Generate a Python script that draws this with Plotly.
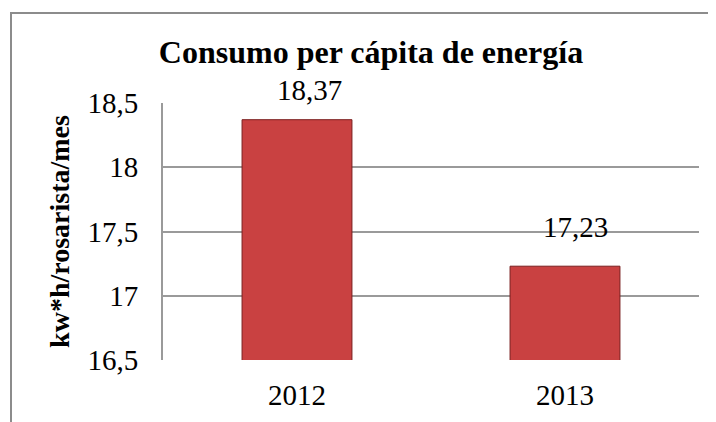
import plotly.graph_objects as go

categories = ["2012", "2013"]
values = [18.37, 17.23]
value_labels = ["18,37", "17,23"]
y_tickvals = [16.5, 17, 17.5, 18, 18.5]
y_ticktext = ["16,5", "17", "17,5", "18", "18,5"]

title_text = "Consumo per cápita de energía"
y_title = "kw*h/rosarista/mes"

FONT = "Liberation Serif, Times New Roman, serif"
label_shifts = [(12, 12), (10, 21)]

# page body has an 8px default margin, so the figure is 8px smaller each way
W, H = 708, 414

fig = go.Figure()
fig.add_trace(go.Bar(
    x=categories, y=values,
    marker=dict(color="#c94141", line=dict(color="#7a1e1e", width=1)),
    showlegend=False, hoverinfo="skip",
))

for c, v, t, (dx, dy) in zip(categories, values, value_labels, label_shifts):
    fig.add_annotation(x=categories.index(c), y=v, xref="x", yref="y", text=t,
                       showarrow=False, yanchor="bottom", yshift=dy, xshift=dx,
                       font=dict(family=FONT, size=29, color="#000"))

fig.update_layout(
    width=W, height=H,
    margin=dict(l=155, r=17, t=95, b=62, autoexpand=False),
    paper_bgcolor="white", plot_bgcolor="white",
    font=dict(family=FONT, size=29, color="#000"),
    separators=",.",
    bargap=0.59,
    title=dict(text="<b>" + title_text + "</b>", x=363 / W, xref="container",
               xanchor="center", y=1 - 44 / H, yref="container", yanchor="middle",
               automargin=False,
               font=dict(family=FONT, size=32, color="#000")),
    xaxis=dict(type="category", categoryorder="array", categoryarray=categories,
               range=[-0.5, 1.5], autorange=False, automargin=False,
               showgrid=False, showline=False, ticks="outside", ticklen=9,
               tickcolor="rgba(0,0,0,0)",
               tickfont=dict(family=FONT, size=29)),
    yaxis=dict(range=[16.5, 18.5], autorange=False, automargin=False,
               tickvals=y_tickvals, ticktext=y_ticktext,
               showgrid=True, gridcolor="#9a9a9a", gridwidth=2,
               showline=True, linecolor="#9a9a9a", linewidth=2,
               ticks="outside", ticklen=17, tickcolor="rgba(0,0,0,0)",
               zeroline=False,
               title=dict(text="<b>" + y_title + "</b>", standoff=10,
                          font=dict(family=FONT, size=28)),
               tickfont=dict(family=FONT, size=29)),
)

# outer chart frame (only top and left edges visible in the crop)
fig.add_shape(type="rect", xref="paper", yref="paper",
              x0=(3 - 155) / 536, x1=1.3, y0=-0.6, y1=(352 - 5) / 257,
              line=dict(color="#8c8c8c", width=2), layer="below")

fig.write_html("out.html")
